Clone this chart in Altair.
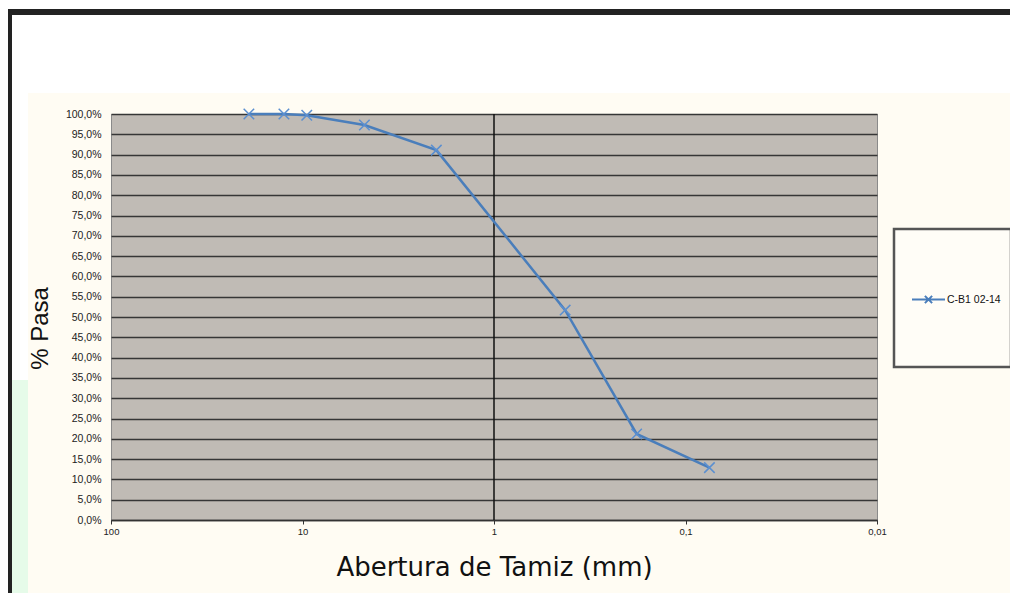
import altair as alt
import pandas as pd

# ---- data ----
abertura_mm = [19.05, 12.5, 9.5, 4.75, 2.0, 0.425, 0.18, 0.075]
pasa_pct = [100.0, 100.0, 99.7, 97.3, 91.1, 51.7, 21.2, 12.9]
serie = "C-B1 02-14"
x_ticks = [100, 10, 1, 0.1, 0.01]
y_ticks = [0, 5, 10, 15, 20, 25, 30, 35, 40, 45, 50, 55, 60, 65, 70, 75, 80, 85, 90, 95, 100]
eje_vertical = [1]

df = pd.DataFrame({"abertura": abertura_mm, "pasa": pasa_pct, "serie": [serie] * len(abertura_mm)})

FONT = "Liberation Sans"
W, H = 766, 406

x_scale = alt.Scale(type="log", domain=[0.01, 100], reverse=True)
y_scale = alt.Scale(domain=[0, 100], nice=False, zero=False)

x_axis = alt.Axis(
    values=x_ticks,
    labelExpr="datum.value >= 1 ? format(datum.value, 'd') : replace(format(datum.value, '.2~f'), '.', ',')",
    grid=False, domainColor="#333333", domainWidth=1.5, tickColor="#333333", tickSize=4,
    labelFlush=False, labelPadding=2, labelFont=FONT, labelFontSize=9.5, labelColor="#222222",
    title="Abertura de Tamiz (mm)", titleFont="DejaVu Sans", titleFontSize=26, titleFontWeight="normal",
    titleColor="#111111", titlePadding=19,
)
y_axis = alt.Axis(
    values=y_ticks,
    labelExpr="replace(format(datum.value, '.1f'), '.', ',') + '%'",
    grid=True, gridColor="#363636", gridWidth=1.6, domain=False, ticks=False,
    labelPadding=10, labelFont=FONT, labelFontSize=10.5, labelColor="#222222",
    title="% Pasa", titleFont=FONT, titleFontSize=24, titleFontWeight="normal",
    titleColor="#111111", titlePadding=13, titleY=214,
)

one = pd.DataFrame({"k": [0]})


def deco(x, x2, y, y2, fill, stroke=None, sw=0):
    kw = dict(fill=fill)
    if stroke:
        kw.update(stroke=stroke, strokeWidth=sw)
    return alt.Chart(one).mark_rect(**kw).encode(
        x=alt.value(x), x2=alt.value(x2), y=alt.value(y), y2=alt.value(y2)
    )


decor = [
    deco(-111, 910, -114, -21, "#ffffff"),
    deco(-111, -83, -21, 490, "#ffffff"),
    deco(-111, -83, 266, 490, "#e6fbe9"),
    deco(-105, 910, -105, -99, "#222222"),
    deco(-105, -99, -105, 490, "#222222"),
    deco(783, 900, 115, 253, "#fffdf7", "#555555", 2.5),
]

rule = alt.Chart(pd.DataFrame({"x": eje_vertical})).mark_rule(color="#111111", strokeWidth=1.5).encode(
    x=alt.X("x:Q", scale=x_scale, axis=x_axis)
)

legend_sym = "M-1,0L1,0M-0.22,-0.22L0.22,0.22M-0.22,0.22L0.22,-0.22"

line = alt.Chart(df).mark_line(strokeWidth=2.5).encode(
    x=alt.X("abertura:Q", scale=x_scale, axis=x_axis),
    y=alt.Y("pasa:Q", scale=y_scale, axis=y_axis),
    color=alt.Color(
        "serie:N",
        scale=alt.Scale(domain=[serie], range=["#4a7ebb"]),
        legend=alt.Legend(
            title=None, orient="none", legendX=800, legendY=168, padding=0,
            symbolType=legend_sym, symbolSize=1089, symbolStrokeWidth=2,
            labelFont=FONT, labelFontSize=10.5, labelColor="#111111", labelOffset=1,
        ),
    ),
)

points = alt.Chart(df).mark_point(
    shape="M-1,-1L1,1M-1,1L1,-1", size=110, filled=False, strokeWidth=1.5, color="#5b8fd0", opacity=1
).encode(
    x=alt.X("abertura:Q", scale=x_scale, axis=x_axis),
    y=alt.Y("pasa:Q", scale=y_scale, axis=y_axis),
)

chart = alt.layer(*decor, rule, line, points).properties(
    width=W, height=H,
    padding={"left": 103, "top": 106, "right": 133, "bottom": 73},
    autosize=alt.AutoSizeParams(type="none"),
    background="#fffcf3",
).configure_view(fill="#c0bbb5", stroke="#8a8a8a", strokeWidth=1)

chart.save("out.html", embed_options={"renderer": "svg", "actions": False})
